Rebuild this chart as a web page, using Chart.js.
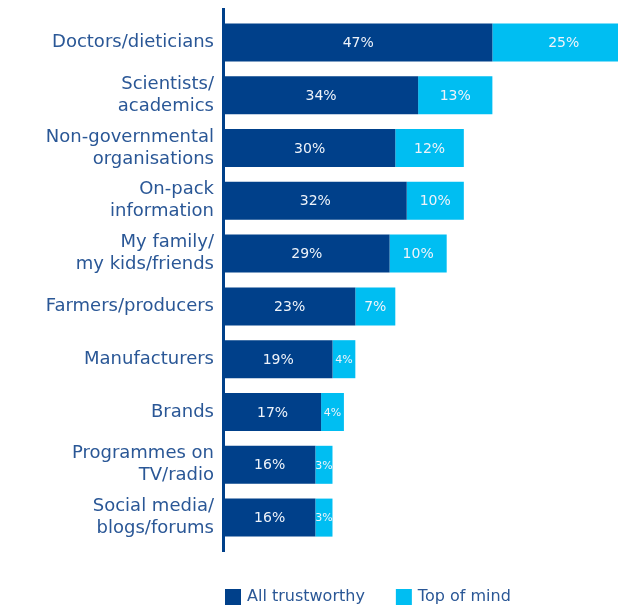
<!DOCTYPE html>
<html>
<head>
<meta charset="utf-8">
<script src="https://cdn.jsdelivr.net/npm/chart.js@4"></script>
<style>
	html, body { margin: 0; padding: 0; background: #ffffff; }
	#wrap { width: 618px; height: 608px; }
</style>
</head>
<body>
<div id="wrap"><canvas id="canvasTrust" width="618" height="608"></canvas></div>
<script>
// categories / values
var categoryList = [
	'Doctors/dieticians',
	['Scientists/', 'academics'],
	['Non-governmental', 'organisations'],
	['On-pack', 'information'],
	['My family/', 'my kids/friends'],
	'Farmers/producers',
	'Manufacturers',
	'Brands',
	['Programmes on', 'TV/radio'],
	['Social media/', 'blogs/forums']
];
var trustworthyList = [47, 34, 30, 32, 29, 23, 19, 17, 16, 16];
var topOfMindList = [25, 13, 12, 10, 10, 7, 4, 4, 3, 3];
var seriesNames = ['All trustworthy', 'Top of mind'];

var DARK = '#00408a';
var LIGHT = '#00bef2';
var TEXT = '#2a5796';
var FONT = "'DejaVu Sans', sans-serif";

/***********************************************************************************************
 * value labels, axis line and legend
 ***********************************************************************************************/
var decoPlugin = {
	id: 'deco',
	afterDatasetsDraw: function(chart) {
		var ctx = chart.ctx;
		ctx.save();
		ctx.textAlign = 'center';
		ctx.textBaseline = 'middle';
		chart.data.datasets.forEach(function(ds, di) {
			var meta = chart.getDatasetMeta(di);
			meta.data.forEach(function(bar, i) {
				var v = ds.data[i];
				ctx.fillStyle = '#eef3fa';
				ctx.font = (v < 5 ? '11px ' : '14px ') + FONT;
				ctx.fillText(v + '%', (bar.x + bar.base) / 2, bar.y + 1);
			});
		});
		ctx.restore();
	},
	afterDraw: function(chart) {
		var ctx = chart.ctx;
		var area = chart.chartArea;
		ctx.save();
		// left axis line
		ctx.fillStyle = DARK;
		ctx.fillRect(area.left - 2, 8, 3, 544);

		// legend
		var y = 597;
		var x = area.left + 1;
		ctx.font = '16px ' + FONT;
		ctx.textBaseline = 'middle';
		ctx.textAlign = 'left';
		[DARK, LIGHT].forEach(function(col, i) {
			ctx.fillStyle = col;
			ctx.fillRect(x, y - 8, 16, 16);
			ctx.fillStyle = TEXT;
			ctx.fillText(seriesNames[i], x + 22, y);
			x += 22 + ctx.measureText(seriesNames[i]).width + 31;
		});
		ctx.restore();
	}
};

new Chart(document.getElementById('canvasTrust'), {
	type: 'bar',
	data: {
		labels: categoryList,
		datasets: [{
			label: seriesNames[0],
			data: trustworthyList,
			backgroundColor: DARK,
			borderWidth: 0
		}, {
			label: seriesNames[1],
			data: topOfMindList,
			backgroundColor: LIGHT,
			borderWidth: 0
		}]
	},
	options: {
		indexAxis: 'y',
		responsive: false,
		animation: false,
		layout: {
			padding: { top: 16, bottom: 64, left: 0, right: 0 }
		},
		datasets: {
			bar: { categoryPercentage: 1, barPercentage: 0.72 }
		},
		scales: {
			x: {
				stacked: true,
				display: false,
				min: 0,
				max: 69
			},
			y: {
				stacked: true,
				grid: { display: false, drawTicks: false },
				border: { display: false },
				afterFit: function(scale) {
					scale.width = 224;
					scale.paddingTop = 0;
					scale.paddingBottom = 0;
				},
				ticks: {
					padding: 10,
					color: TEXT,
					font: { family: FONT, size: 18, lineHeight: 1.22 }
				}
			}
		},
		plugins: {
			legend: { display: false },
			tooltip: { enabled: false }
		}
	},
	plugins: [decoPlugin]
});
</script>
</body>
</html>
